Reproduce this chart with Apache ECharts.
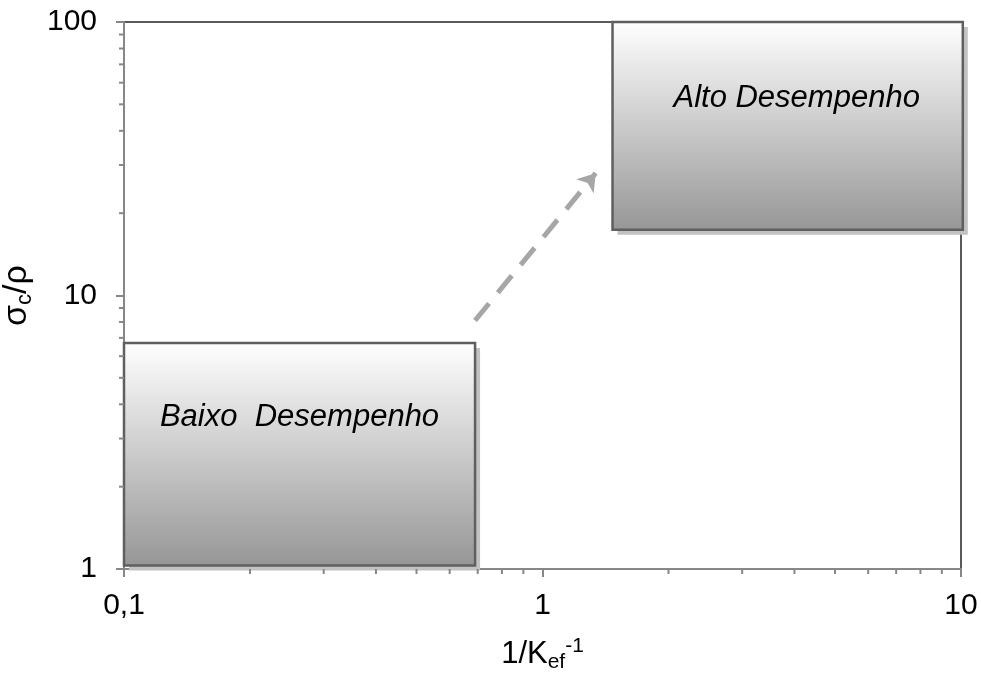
<!DOCTYPE html>
<html>
<head>
<meta charset="utf-8">
<script src="https://cdn.jsdelivr.net/npm/echarts@6/dist/echarts.min.js"></script>
<style>
  html, body { margin: 0; padding: 0; background: #fff; }
  #chart { width: 981px; height: 673px; }
</style>
</head>
<body>
<div id="chart"></div>
<script>
// Performance regions on a log-log plane
const regionNames = ['Baixo  Desempenho', 'Alto Desempenho'];
const regionX0 = [0.1, 1.47];
const regionX1 = [0.69, 10.1];
const regionY0 = [1.03, 17.4];
const regionY1 = [6.7, 100];

// Trend arrow from the low to the high region
const arrowFrom = [0.69, 8.1];
const arrowTo = [1.34, 28];

// Axis ticks
const xTickValues = [0.1, 1, 10];
const xTickLabels = ['0,1', '1', '10'];
const yTickValues = [1, 10, 100];
const yTickLabels = ['1', '10', '100'];
const xMinorTicks = [0.2, 0.3, 0.4, 0.5, 0.6, 0.7, 0.8, 0.9, 2, 3, 4, 5, 6, 7, 8, 9];
const yMinorTicks = [2, 3, 4, 5, 6, 7, 8, 9, 20, 30, 40, 50, 60, 70, 80, 90];

const FONT = '"Liberation Sans", Arial, sans-serif';
const AXIS_GREY = '#878787';

function tickLabel(values, labels) {
  return function (v) {
    for (let i = 0; i < values.length; i++) {
      if (Math.abs(Math.log10(v) - Math.log10(values[i])) < 1e-6) return labels[i];
    }
    return '';
  };
}

const regionData = regionNames.map((n, i) => [regionX0[i], regionX1[i], regionY0[i], regionY1[i], n]);
// title placement inside each box: horizontal nudge and relative height
const titleDx = [0, 9];
const titleRelY = [0.335, 0.37];

const chart = echarts.init(document.getElementById('chart'));
chart.setOption({
  animation: false,
  backgroundColor: '#ffffff',
  grid: {
    left: 124, top: 22, width: 837, height: 547,
    show: true, borderColor: '#5a5a5a', borderWidth: 2,
    containLabel: false, outerBoundsMode: 'none'
  },
  xAxis: {
    type: 'log', logBase: 10, min: 0.1, max: 10,
    name: '{a|1/K}{sub|ef}{sup|-1}',
    nameLocation: 'middle', nameGap: 67,
    nameTextStyle: {
      color: '#000', fontFamily: FONT,
      rich: {
        a: { fontSize: 31, fontFamily: FONT, color: '#000' },
        sub: { fontSize: 21, fontFamily: FONT, color: '#000', padding: [16, 0, 0, 0] },
        sup: { fontSize: 21, fontFamily: FONT, color: '#000', padding: [0, 0, 16, 0] }
      }
    },
    axisLine: { show: true, lineStyle: { color: AXIS_GREY, width: 2 } },
    axisTick: { show: true, length: 8, lineStyle: { color: AXIS_GREY, width: 2 } },
    splitLine: { show: false },
    axisLabel: {
      color: '#000', fontSize: 30, fontFamily: FONT, margin: 22,
      formatter: tickLabel(xTickValues, xTickLabels)
    }
  },
  yAxis: {
    type: 'log', logBase: 10, min: 1, max: 100,
    name: '{a|σ}{sub|c}{a|/ρ}',
    nameLocation: 'middle', nameGap: 76, nameRotate: 90,
    nameTextStyle: {
      color: '#000', fontFamily: FONT,
      rich: {
        a: { fontSize: 34, fontFamily: FONT, color: '#000' },
        sub: { fontSize: 22, fontFamily: FONT, color: '#000', padding: [16, 0, 0, 0] }
      }
    },
    axisLine: { show: true, lineStyle: { color: AXIS_GREY, width: 2 } },
    axisTick: { show: true, length: 8, lineStyle: { color: AXIS_GREY, width: 2 } },
    splitLine: { show: false },
    axisLabel: {
      color: '#000', fontSize: 30, fontFamily: FONT, margin: 27,
      formatter: tickLabel(yTickValues, yTickLabels)
    }
  },
  series: [
    {
      // shaded region boxes with their titles
      type: 'custom',
      z: 2,
      clip: false,
      data: regionData,
      renderItem: function (params, api) {
        const p0 = api.coord([api.value(0), api.value(3)]);
        const p1 = api.coord([api.value(1), api.value(2)]);
        const x = p0[0], y = p0[1], w = p1[0] - p0[0], h = p1[1] - p0[1];
        const i = params.dataIndex;
        const name = regionData[i][4];
        return {
          type: 'group',
          children: [
            {
              type: 'rect',
              shape: { x: x + 5, y: y + 5, width: w, height: h },
              style: { fill: '#c2c2c2' }
            },
            {
              type: 'rect',
              shape: { x: x, y: y, width: w, height: h },
              style: {
                fill: new echarts.graphic.LinearGradient(0, 0, 0, 1, [
                  { offset: 0, color: '#ffffff' },
                  { offset: 1, color: '#969696' }
                ]),
                stroke: '#5f5f5f', lineWidth: 2.5
              }
            },
            {
              type: 'text',
              style: {
                x: x + w / 2 + titleDx[i], y: y + h * titleRelY[i],
                text: name, fill: '#000',
                font: 'italic 31px ' + FONT,
                align: 'center', verticalAlign: 'middle'
              }
            }
          ]
        };
      }
    },
    {
      // dashed trend arrow
      type: 'lines',
      coordinateSystem: 'cartesian2d',
      z: 3,
      symbol: ['none', 'arrow'],
      symbolSize: 17,
      lineStyle: { color: '#a6a6a6', width: 5, type: [22, 14], opacity: 1 },
      data: [{ coords: [arrowFrom, arrowTo] }]
    },
    {
      // minor ticks along the x axis
      type: 'custom',
      z: 4,
      clip: false,
      silent: true,
      data: xMinorTicks.map(v => [v, 1]),
      renderItem: function (params, api) {
        const p = api.coord([api.value(0), 1]);
        return {
          type: 'line',
          shape: { x1: p[0], y1: p[1], x2: p[0], y2: p[1] + 5 },
          style: { stroke: AXIS_GREY, lineWidth: 2 }
        };
      }
    },
    {
      // minor ticks along the y axis
      type: 'custom',
      z: 4,
      clip: false,
      silent: true,
      data: yMinorTicks.map(v => [0.1, v]),
      renderItem: function (params, api) {
        const p = api.coord([0.1, api.value(1)]);
        return {
          type: 'line',
          shape: { x1: p[0] - 5, y1: p[1], x2: p[0], y2: p[1] },
          style: { stroke: AXIS_GREY, lineWidth: 2 }
        };
      }
    }
  ]
});
</script>
</body>
</html>
